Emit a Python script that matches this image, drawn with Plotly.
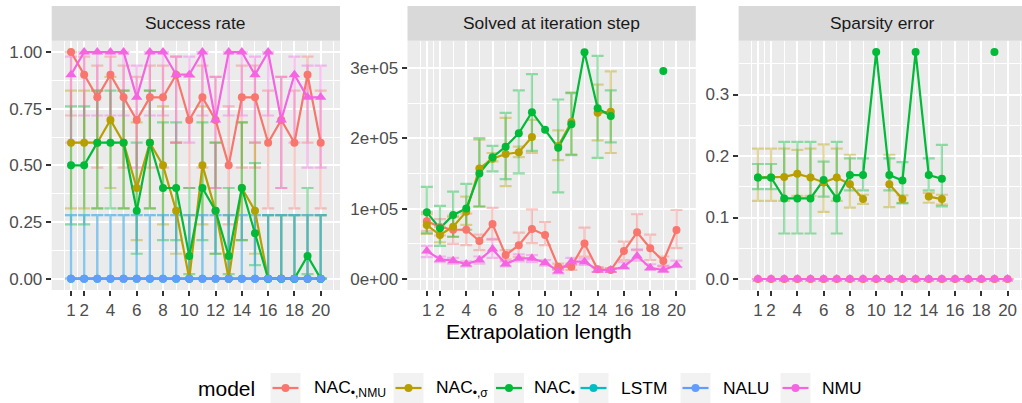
import plotly.graph_objects as go

W, H = 1022, 403
FONT = "Liberation Sans"

# ---------------- data ----------------
x_len = list(range(1, 21))
model_names = ["NAC•,NMU", "NAC•,σ", "NAC•", "LSTM", "NALU", "NMU"]
legend_labels = ["NAC<sub>•,NMU</sub>", "NAC<sub>•,σ</sub>", "NAC<sub>•</sub>", "LSTM", "NALU", "NMU"]
model_colors = ["#F8766D", "#B79F00", "#00BA38", "#00BFC4", "#619CFF", "#F564E3"]
model_symbols = ["circle", "circle", "circle", "circle", "circle", "triangle-up"]
x_ticks = [1, 2, 4, 6, 8, 10, 12, 14, 16, 18, 20]
x_minor = [0.5, 1.5, 3, 5, 7, 9, 11, 13, 15, 17, 19, 21]

# Success rate
sr_nac_nmu = [1.0, 0.9, 0.8, 0.9, 0.8, 0.7, 0.8, 0.8, 0.9, 0.7, 0.8, 0.7, 0.5, 0.8, 0.8, 0.6, 0.7, 0.6, 0.9, 0.6]
sr_nac_nmu_lo = [0.72, 0.60, 0.49, 0.60, 0.49, 0.40, 0.49, 0.49, 0.60, 0.40, 0.49, 0.40, 0.24, 0.49, 0.49, 0.31, 0.40, 0.31, 0.60, 0.31]
sr_nac_nmu_hi = [1.00, 0.98, 0.94, 0.98, 0.94, 0.89, 0.94, 0.94, 0.98, 0.89, 0.94, 0.89, 0.76, 0.94, 0.94, 0.83, 0.89, 0.83, 0.98, 0.83]
sr_nac_sig = [0.6, 0.6, 0.6, 0.7, 0.6, 0.4, 0.6, 0.5, 0.3, 0.0, 0.5, 0.3, 0.0, 0.4, 0.3, 0.0, 0.0, 0.0, 0.0, 0.0]
sr_nac_sig_lo = [0.31, 0.31, 0.31, 0.40, 0.31, 0.17, 0.31, 0.24, 0.11, 0.00, 0.24, 0.11, 0.00, 0.17, 0.11, 0.00, 0.00, 0.00, 0.00, 0.00]
sr_nac_sig_hi = [0.83, 0.83, 0.83, 0.89, 0.83, 0.69, 0.83, 0.76, 0.60, 0.28, 0.76, 0.60, 0.28, 0.69, 0.60, 0.28, 0.28, 0.28, 0.28, 0.28]
sr_nac = [0.5, 0.5, 0.6, 0.6, 0.6, 0.3, 0.6, 0.4, 0.4, 0.1, 0.4, 0.3, 0.1, 0.4, 0.2, 0.0, 0.0, 0.0, 0.1, 0.0]
sr_nac_lo = [0.24, 0.24, 0.31, 0.31, 0.31, 0.11, 0.31, 0.17, 0.17, 0.02, 0.17, 0.11, 0.02, 0.17, 0.06, 0.00, 0.00, 0.00, 0.02, 0.00]
sr_nac_hi = [0.76, 0.76, 0.83, 0.83, 0.83, 0.60, 0.83, 0.69, 0.69, 0.40, 0.69, 0.60, 0.40, 0.69, 0.51, 0.28, 0.28, 0.28, 0.40, 0.28]
sr_lstm = [0.0, 0.0, 0.0, 0.0, 0.0, 0.0, 0.0, 0.0, 0.0, 0.0, 0.0, 0.0, 0.0, 0.0, 0.0, 0.0, 0.0, 0.0, 0.0, 0.0]
sr_lstm_lo = [0.0, 0.0, 0.0, 0.0, 0.0, 0.0, 0.0, 0.0, 0.0, 0.0, 0.0, 0.0, 0.0, 0.0, 0.0, 0.0, 0.0, 0.0, 0.0, 0.0]
sr_lstm_hi = [0.28, 0.28, 0.28, 0.28, 0.28, 0.28, 0.28, 0.28, 0.28, 0.28, 0.28, 0.28, 0.28, 0.28, 0.28, 0.28, 0.28, 0.28, 0.28, 0.28]
sr_nalu = [0.0, 0.0, 0.0, 0.0, 0.0, 0.0, 0.0, 0.0, 0.0, 0.0, 0.0, 0.0, 0.0, 0.0, 0.0, 0.0, 0.0, 0.0, 0.0, 0.0]
sr_nalu_lo = [0.0, 0.0, 0.0, 0.0, 0.0, 0.0, 0.0, 0.0, 0.0, 0.0, 0.0, 0.0, 0.0, 0.0, 0.0, 0.0, 0.0, 0.0, 0.0, 0.0]
sr_nalu_hi = [0.28, 0.28, 0.28, 0.28, 0.28, 0.28, 0.28, 0.28, 0.28, 0.28, 0.28, 0.28, 0.28, 0.28, 0.28, 0.28, 0.28, 0.28, 0.28, 0.28]
sr_nmu = [0.9, 1.0, 1.0, 1.0, 1.0, 0.8, 1.0, 1.0, 0.9, 0.9, 1.0, 0.7, 1.0, 1.0, 0.9, 1.0, 0.7, 0.9, 0.8, 0.8]
sr_nmu_lo = [0.60, 0.72, 0.72, 0.72, 0.72, 0.49, 0.72, 0.72, 0.60, 0.60, 0.72, 0.40, 0.72, 0.72, 0.60, 0.72, 0.40, 0.60, 0.49, 0.49]
sr_nmu_hi = [0.98, 1.00, 1.00, 1.00, 1.00, 0.94, 1.00, 1.00, 0.98, 0.98, 1.00, 0.89, 1.00, 1.00, 0.98, 1.00, 0.89, 0.98, 0.94, 0.94]

# Solved at iteration step
N = None
it_nac_nmu = [82000, 74000, 70000, 70000, 54000, 78000, 34000, 48000, 71000, 62500, 17500, 17500, 50500, 13700, 12800, 39800, 66300, 43600, 25600, 69600]
it_nac_nmu_lo = [68000, 62000, 50000, 48000, 41000, 56000, 28000, 31000, 51000, 48000, 13000, 13000, 32000, 10000, 10000, 27000, 41000, 27000, 18000, 44000]
it_nac_nmu_hi = [95000, 85000, 90000, 93000, 63000, 101000, 41000, 66000, 99000, 81000, 22000, 22000, 73000, 17000, 15000, 53000, 92000, 63000, 32000, 98000]
it_nac_sig = [76700, 62500, 74300, 95600, 157000, 171000, 177500, 180000, 201700, N, 189000, 223000, N, 236000, 237700, N, N, N, N, N]
it_nac_sig_lo = [64000, 52000, 60000, 77000, 103000, 167000, 132000, 173000, 179000, N, 169000, 177000, N, 197000, 179000, N, N, N, N, N]
it_nac_sig_hi = [92000, 74000, 88000, 117000, 198000, 179000, 229000, 188000, 226000, N, 211000, 265000, N, 276000, 295000, N, N, N, N, N]
it_nac = [94700, 72000, 91000, 100000, 150000, 173000, 188000, 207000, 237000, 212000, 186500, 220000, 322000, 242500, 231500, N, N, N, 295500, N]
it_nac_lo = [65000, 47000, 60000, 70000, 103000, 153000, 142000, 150000, 182000, N, 123000, 176000, N, 172000, 194000, N, N, N, N, N]
it_nac_hi = [131000, 104000, 124000, 135000, 200000, 189000, 236000, 268000, 291000, N, 255000, 264000, N, 317000, 268000, N, N, N, N, N]
it_nmu = [39800, 28000, 26000, 21300, 27000, 42600, 21300, 29400, 29400, 23200, 11400, 24600, 24600, 12800, 12800, 17500, 32700, 16000, 12800, 19900]
it_nmu_lo = [31000, 24000, 22000, 18000, 22000, 30000, 18000, 25000, 24000, 19000, 8000, 20000, 20000, 10000, 10000, 15000, 26000, 13000, 10000, 17000]
it_nmu_hi = [47000, 32000, 30000, 25000, 32000, 57000, 25000, 35000, 34000, 27000, 14000, 30000, 29000, 16000, 15000, 24000, 42000, 21000, 19000, 26000]

# Sparsity error
sp_nac_nmu = [0.0, 0.0, 0.0, 0.0, 0.0, 0.0, 0.0, 0.0, 0.0, 0.0, 0.0, 0.0, 0.0, 0.0, 0.0, 0.0, 0.0, 0.0, 0.0, 0.0]
sp_nac_sig = [0.165, 0.165, 0.166, 0.171, 0.165, 0.157, 0.165, 0.154, 0.130, N, 0.154, 0.130, N, 0.134, 0.130, N, N, N, N, N]
sp_nac_sig_lo = [0.127, 0.127, 0.127, 0.135, 0.135, 0.109, 0.127, 0.116, 0.122, N, 0.117, 0.124, N, 0.124, 0.121, N, N, N, N, N]
sp_nac_sig_hi = [0.212, 0.212, 0.212, 0.210, 0.212, 0.219, 0.212, 0.202, 0.137, N, 0.202, 0.136, N, 0.140, 0.137, N, N, N, N, N]
sp_nac = [0.165, 0.165, 0.131, 0.131, 0.131, 0.161, 0.131, 0.169, 0.169, 0.369, 0.169, 0.160, 0.369, 0.169, 0.163, N, N, N, 0.369, N]
sp_nac_lo = [0.146, 0.146, 0.074, 0.074, 0.074, 0.134, 0.074, 0.144, 0.144, N, 0.144, 0.123, N, 0.144, 0.118, N, N, N, N, N]
sp_nac_hi = [0.187, 0.187, 0.223, 0.223, 0.223, 0.191, 0.223, 0.196, 0.196, N, 0.196, 0.190, N, 0.196, 0.218, N, N, N, N, N]
sp_nmu = [0.0, 0.0, 0.0, 0.0, 0.0, 0.0, 0.0, 0.0, 0.0, 0.0, 0.0, 0.0, 0.0, 0.0, 0.0, 0.0, 0.0, 0.0, 0.0, 0.0]

panel_titles = ["Success rate", "Solved at iteration step", "Sparsity error"]
y_tickvals = [[0, 0.25, 0.5, 0.75, 1.0], [0, 100000, 200000, 300000], [0, 0.1, 0.2, 0.3]]
y_ticktext = [["0.00", "0.25", "0.50", "0.75", "1.00"], ["0e+00", "1e+05", "2e+05", "3e+05"], ["0.0", "0.1", "0.2", "0.3"]]
y_minor = [[0.125, 0.375, 0.625, 0.875], [50000, 150000, 250000], [0.05, 0.15, 0.25, 0.35]]
y_ranges = [[-0.05, 1.05], [-15600, 338500], [-0.0179, 0.3875]]

panel_series = [
    [(sr_nac_nmu, sr_nac_nmu_lo, sr_nac_nmu_hi), (sr_nac_sig, sr_nac_sig_lo, sr_nac_sig_hi),
     (sr_nac, sr_nac_lo, sr_nac_hi), (sr_lstm, sr_lstm_lo, sr_lstm_hi),
     (sr_nalu, sr_nalu_lo, sr_nalu_hi), (sr_nmu, sr_nmu_lo, sr_nmu_hi)],
    [(it_nac_nmu, it_nac_nmu_lo, it_nac_nmu_hi), (it_nac_sig, it_nac_sig_lo, it_nac_sig_hi),
     (it_nac, it_nac_lo, it_nac_hi), None, None, (it_nmu, it_nmu_lo, it_nmu_hi)],
    [(sp_nac_nmu, sp_nac_nmu, sp_nac_nmu), (sp_nac_sig, sp_nac_sig_lo, sp_nac_sig_hi),
     (sp_nac, sp_nac_lo, sp_nac_hi), None, None, (sp_nmu, sp_nmu, sp_nmu)],
]

# ---------------- layout geometry (pixels) ----------------
P_LEFT = [51.7, 407.5, 738.6]
P_RIGHT = [340.0, 695.8, 1022.0]
UNIT = 13.14
X0 = -0.47
P_TOP, P_BOT = 40.7, 290.0
S_TOP = 6.0
TICK_SIZE = 17
STRIP_SIZE = 17.4
TITLE_SIZE = 21
LEG_TEXT_SIZE = 17.4


def px(v):
    return v / W


def py(v):
    return 1 - v / H


def rgba(hexc, a):
    h = hexc.lstrip("#")
    return "rgba(%d,%d,%d,%.2f)" % (int(h[0:2], 16), int(h[2:4], 16), int(h[4:6], 16), a)


fig = go.Figure()

for pi in range(3):
    xa = "x" if pi == 0 else "x%d" % (pi + 1)
    ya = "y" if pi == 0 else "y%d" % (pi + 1)
    series = panel_series[pi]
    # error bars first
    for mi, s in enumerate(series):
        if s is None:
            continue
        vals, lo, hi = s
        xs, ys, up, dn = [], [], [], []
        for xv, v, l, h in zip(x_len, vals, lo, hi):
            if v is None or l is None or h is None:
                continue
            xs.append(xv); ys.append(v); up.append(h - v); dn.append(v - l)
        fig.add_trace(go.Scatter(
            x=xs, y=ys, mode="markers", xaxis=xa, yaxis=ya,
            marker=dict(size=1, color="rgba(0,0,0,0)"),
            error_y=dict(type="data", symmetric=False, array=up, arrayminus=dn,
                         color=rgba(model_colors[mi], 0.4), thickness=2.2, width=6),
            showlegend=False, hoverinfo="skip"))
    # lines
    for mi, s in enumerate(series):
        if s is None:
            continue
        fig.add_trace(go.Scatter(
            x=x_len, y=s[0], mode="lines", xaxis=xa, yaxis=ya, connectgaps=False,
            line=dict(color=model_colors[mi], width=2.2),
            showlegend=False, hoverinfo="skip"))
    # points
    for mi, s in enumerate(series):
        if s is None:
            continue
        tri = model_symbols[mi] == "triangle-up"
        fig.add_trace(go.Scatter(
            x=x_len, y=s[0], mode="markers", xaxis=xa, yaxis=ya,
            marker=dict(color=model_colors[mi], symbol=model_symbols[mi],
                        size=10 if tri else 8, line=dict(width=0)),
            name=model_names[mi], showlegend=False))

shapes = []
annotations = []
axis_common = dict(
    showline=False, zeroline=False, ticks="outside", ticklen=5, tickwidth=2,
    tickcolor="#333333", showgrid=True, gridcolor="white", gridwidth=2.4,
    tickfont=dict(family=FONT, size=TICK_SIZE, color="#4D4D4D"), fixedrange=True,
)
layout_axes = {}
for pi in range(3):
    sfx = "" if pi == 0 else str(pi + 1)
    xr_end = X0 + (P_RIGHT[pi] - P_LEFT[pi]) / UNIT
    layout_axes["xaxis" + sfx] = dict(
        axis_common, domain=[px(P_LEFT[pi]), px(P_RIGHT[pi])], range=[X0, xr_end],
        tickvals=x_ticks, ticktext=[str(t) for t in x_ticks], anchor="y" + sfx,
        minor=dict(tickvals=x_minor, showgrid=True, gridcolor="white", gridwidth=1.2, ticks=""))
    layout_axes["yaxis" + sfx] = dict(
        axis_common, domain=[py(P_BOT), py(P_TOP)], range=y_ranges[pi],
        tickvals=y_tickvals[pi], ticktext=y_ticktext[pi], anchor="x" + sfx,
        minor=dict(tickvals=y_minor[pi], showgrid=True, gridcolor="white", gridwidth=1.2, ticks=""))
    full_right = P_LEFT[pi] + (21.47 - X0) * UNIT
    shapes.append(dict(type="rect", xref="paper", yref="paper", layer="below",
                       x0=px(P_LEFT[pi]), x1=px(P_RIGHT[pi]), y0=py(P_BOT), y1=py(P_TOP),
                       fillcolor="#EBEBEB", line=dict(width=0)))
    shapes.append(dict(type="rect", xref="paper", yref="paper", layer="below",
                       x0=px(P_LEFT[pi]), x1=px(P_RIGHT[pi]), y0=py(P_TOP), y1=py(S_TOP),
                       fillcolor="#D9D9D9", line=dict(width=0)))
    annotations.append(dict(xref="paper", yref="paper", x=px((P_LEFT[pi] + full_right) / 2),
                            y=py((S_TOP + P_TOP) / 2), text=panel_titles[pi], showarrow=False,
                            xanchor="center", yanchor="middle",
                            font=dict(family=FONT, size=STRIP_SIZE, color="#1A1A1A")))

# x axis title
annotations.append(dict(xref="paper", yref="paper", x=px(539.3), y=py(331.5), text="Extrapolation length",
                        showarrow=False, xanchor="center", yanchor="middle",
                        font=dict(family=FONT, size=TITLE_SIZE, color="black")))

# legend (ggplot style, drawn manually)
LEG_Y = 388
KEY = 30
annotations.append(dict(xref="paper", yref="paper", x=px(196), y=py(LEG_Y), text="model",
                        showarrow=False, xanchor="left", yanchor="middle",
                        font=dict(family=FONT, size=TITLE_SIZE, color="black")))
key_centers = [285.5, 408.5, 509.0, 593.5, 695.5, 795.5]
label_starts = [312, 434, 532, 619, 721, 820]
for mi in range(6):
    kc = key_centers[mi]
    shapes.append(dict(type="rect", xref="paper", yref="paper",
                       x0=px(kc - KEY / 2), x1=px(kc + KEY / 2),
                       y0=py(LEG_Y + KEY / 2), y1=py(LEG_Y - KEY / 2),
                       fillcolor="#F2F2F2", line=dict(width=0)))
    shapes.append(dict(type="line", xref="paper", yref="paper",
                       x0=px(kc - KEY / 2 + 2), x1=px(kc + KEY / 2 - 2),
                       y0=py(LEG_Y), y1=py(LEG_Y),
                       line=dict(color=model_colors[mi], width=2.2)))
    shapes.append(dict(type="circle", xref="paper", yref="paper",
                       x0=px(kc - 4), x1=px(kc + 4), y0=py(LEG_Y + 4), y1=py(LEG_Y - 4),
                       fillcolor=model_colors[mi], line=dict(width=0)))
    annotations.append(dict(xref="paper", yref="paper", x=px(label_starts[mi]), y=py(LEG_Y),
                            text=legend_labels[mi], showarrow=False, xanchor="left", yanchor="middle",
                            font=dict(family=FONT, size=LEG_TEXT_SIZE, color="black")))

fig.update_layout(
    width=W, height=H, margin=dict(l=0, r=0, t=0, b=0, pad=0),
    paper_bgcolor="white", plot_bgcolor="rgba(0,0,0,0)",
    showlegend=False, shapes=shapes, annotations=annotations,
    font=dict(family=FONT), **layout_axes)

fig.write_html("out.html", config={"displayModeBar": False},
               post_script="document.body.style.margin='0px';")
